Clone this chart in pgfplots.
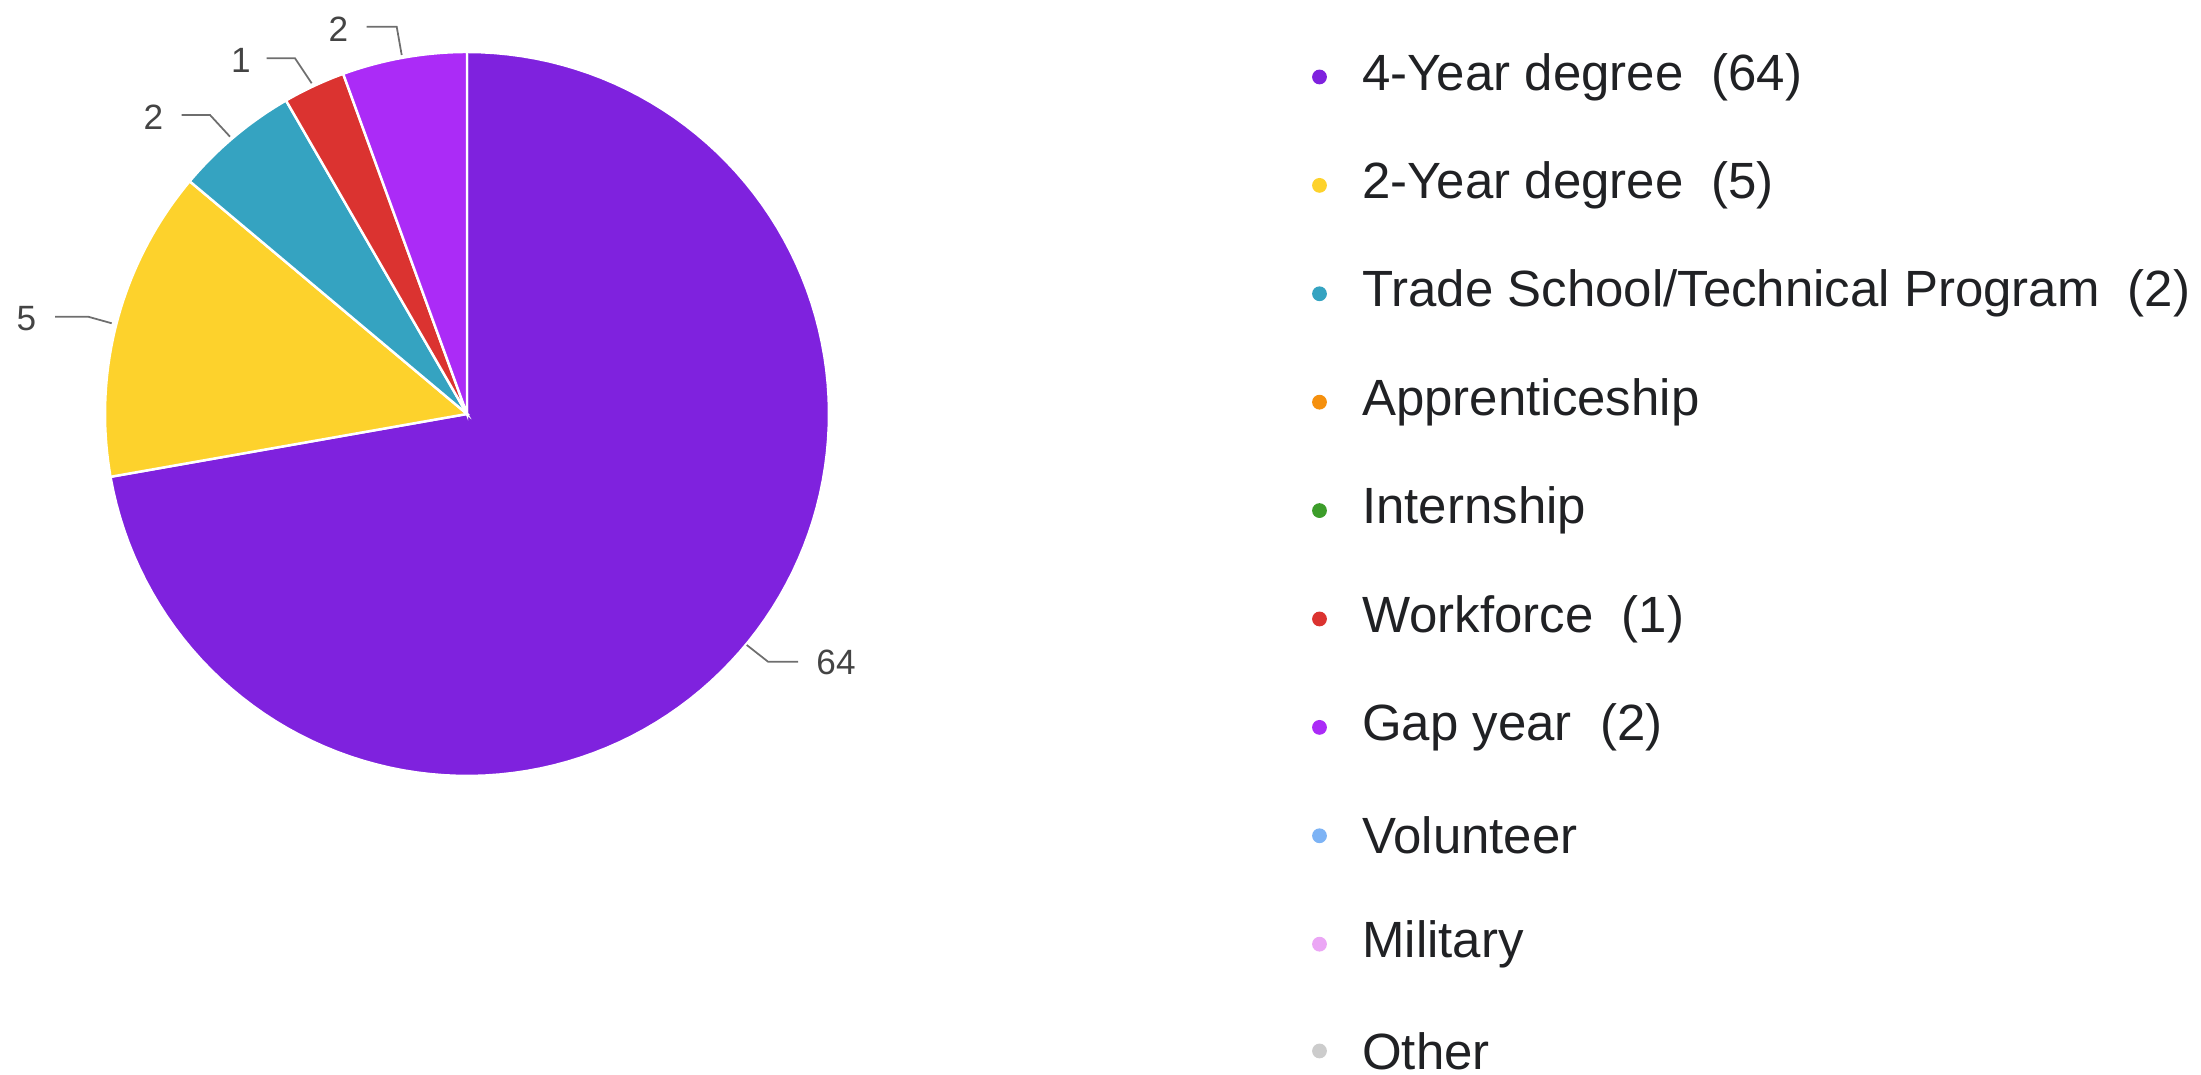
\documentclass[border=0pt]{standalone}
\usepackage{fontspec}
\setmainfont{Liberation Sans}
\usepackage{pgfplots}
\pgfplotsset{compat=1.18}
\definecolor{cFour}{HTML}{7F22DE}
\definecolor{cTwo}{HTML}{FDD22C}
\definecolor{cTrade}{HTML}{35A3C1}
\definecolor{cAppr}{HTML}{F5900E}
\definecolor{cIntern}{HTML}{3C9D2A}
\definecolor{cWork}{HTML}{DB3330}
\definecolor{cGap}{HTML}{AB2BF7}
\definecolor{cVol}{HTML}{7DB3F5}
\definecolor{cMil}{HTML}{EBA6F5}
\definecolor{cOther}{HTML}{CCCCCC}
\definecolor{txt}{HTML}{202124}
\definecolor{lbl}{HTML}{444444}
\definecolor{lead}{HTML}{6E6E6E}
% slice shares as drawn in the picture (one unit = 10 degrees)
\def\total{36}
\pgfmathsetmacro\aA{90}
\pgfmathsetmacro\aB{\aA-26*360/\total}
\pgfmathsetmacro\aC{\aB-5*360/\total}
\pgfmathsetmacro\aD{\aC-2*360/\total}
\pgfmathsetmacro\aE{\aD-1*360/\total}
\pgfmathsetmacro\aF{\aE-2*360/\total}
\begin{document}
\begin{tikzpicture}
\begin{axis}[scale only axis, width=22.01cm, height=10.75cm,
  xmin=0, xmax=2201, ymin=-1075, ymax=0, hide axis, clip=false]
\addplot[draw=none, forget plot] coordinates {(0,0) (2201,-1075)};
% pie slices
\addplot[fill=cFour, draw=white, line width=0.7pt, domain=\aB:\aA, samples=120, variable=\t]
  ({467+362*cos(\t)},{-414+362*sin(\t)}) -- (467,-414) -- cycle;
\addplot[fill=cTwo, draw=white, line width=0.7pt, domain=\aC:\aB, samples=40, variable=\t]
  ({467+362*cos(\t)},{-414+362*sin(\t)}) -- (467,-414) -- cycle;
\addplot[fill=cTrade, draw=white, line width=0.7pt, domain=\aD:\aC, samples=20, variable=\t]
  ({467+362*cos(\t)},{-414+362*sin(\t)}) -- (467,-414) -- cycle;
\addplot[fill=cWork, draw=white, line width=0.7pt, domain=\aE:\aD, samples=12, variable=\t]
  ({467+362*cos(\t)},{-414+362*sin(\t)}) -- (467,-414) -- cycle;
\addplot[fill=cGap, draw=white, line width=0.7pt, domain=\aF:\aE, samples=20, variable=\t]
  ({467+362*cos(\t)},{-414+362*sin(\t)}) -- (467,-414) -- cycle;
% leader lines
\addplot[lead, line width=0.5pt] coordinates {(746.7,-645) (768,-661.7) (798,-661.7)};
\addplot[lead, line width=0.5pt] coordinates {(55,-316.7) (88,-316.7) (111.7,-323.3)};
\addplot[lead, line width=0.5pt] coordinates {(181.7,-115) (210,-115) (230,-136.7)};
\addplot[lead, line width=0.5pt] coordinates {(266.7,-58.3) (295,-58.3) (311.7,-83.3)};
\addplot[lead, line width=0.5pt] coordinates {(366.7,-26.7) (396.7,-26.7) (401.7,-55)};
% slice labels
\begin{scope}[every node/.style={font=\fontsize{10}{12}\selectfont, text=lbl, inner sep=0pt}]
\node at (axis cs:836,-662) {64};
\node at (axis cs:26.5,-319) {5};
\node at (axis cs:153.5,-117) {2};
\node at (axis cs:241,-60) {1};
\node at (axis cs:338.5,-29) {2};
\end{scope}
% legend markers
\addplot[only marks, mark=*, mark size=1.9pt, color=cFour] coordinates {(1319.5,-77)};
\addplot[only marks, mark=*, mark size=1.9pt, color=cTwo] coordinates {(1319.5,-185.4)};
\addplot[only marks, mark=*, mark size=1.9pt, color=cTrade] coordinates {(1319.5,-293.8)};
\addplot[only marks, mark=*, mark size=1.9pt, color=cAppr] coordinates {(1319.5,-402.2)};
\addplot[only marks, mark=*, mark size=1.9pt, color=cIntern] coordinates {(1319.5,-510.6)};
\addplot[only marks, mark=*, mark size=1.9pt, color=cWork] coordinates {(1319.5,-619)};
\addplot[only marks, mark=*, mark size=1.9pt, color=cGap] coordinates {(1319.5,-727.4)};
\addplot[only marks, mark=*, mark size=1.9pt, color=cVol] coordinates {(1319.5,-835.8)};
\addplot[only marks, mark=*, mark size=1.9pt, color=cMil] coordinates {(1319.5,-944.2)};
\addplot[only marks, mark=*, mark size=1.9pt, color=cOther] coordinates {(1319.5,-1051)};
% legend texts
\begin{scope}[every node/.style={font=\fontsize{14.5}{16}\selectfont, text=txt, inner sep=0pt, anchor=west}]
\node at (axis cs:1361.6,-77) {4-Year degree~~(64)};
\node at (axis cs:1361.6,-185.4) {2-Year degree~~(5)};
\node at (axis cs:1361.6,-293.8) {Trade School/Technical Program~~(2)};
\node at (axis cs:1361.6,-402.2) {Apprenticeship};
\node at (axis cs:1361.6,-510.6) {Internship};
\node at (axis cs:1361.6,-619) {Workforce~~(1)};
\node at (axis cs:1361.6,-727.4) {Gap year~~(2)};
\node at (axis cs:1361.6,-835.8) {Volunteer};
\node at (axis cs:1361.6,-944.2) {Military};
\node at (axis cs:1361.6,-1051) {Other};
\end{scope}
\end{axis}
\end{tikzpicture}
\end{document}
